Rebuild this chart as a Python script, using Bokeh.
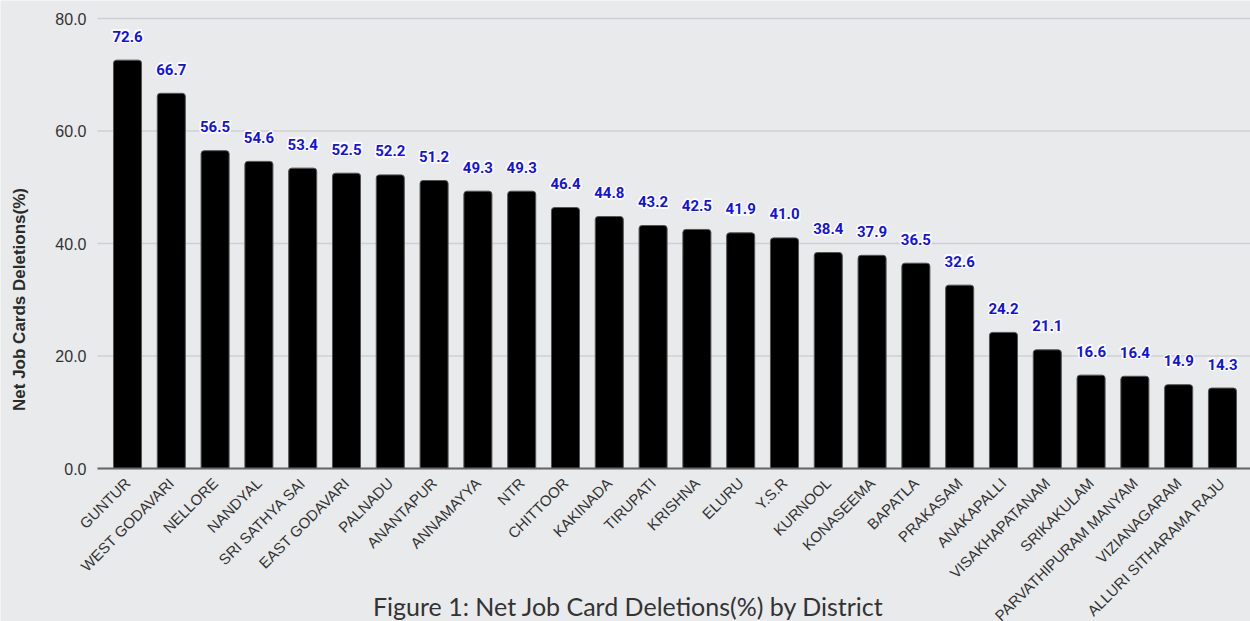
from math import pi

from bokeh.plotting import figure
from bokeh.models import (ColumnDataSource, Range1d, FixedTicker,
                          PrintfTickFormatter)
from bokeh.core.properties import value
from bokeh.embed import file_html
from bokeh.resources import INLINE

districts = [
    "GUNTUR", "WEST GODAVARI", "NELLORE", "NANDYAL", "SRI SATHYA SAI",
    "EAST GODAVARI", "PALNADU", "ANANTAPUR", "ANNAMAYYA", "NTR", "CHITTOOR",
    "KAKINADA", "TIRUPATI", "KRISHNA", "ELURU", "Y.S.R", "KURNOOL",
    "KONASEEMA", "BAPATLA", "PRAKASAM", "ANAKAPALLI", "VISAKHAPATANAM",
    "SRIKAKULAM", "PARVATHIPURAM MANYAM", "VIZIANAGARAM",
    "ALLURI SITHARAMA RAJU",
]
deletions_pct = [
    72.6, 66.7, 56.5, 54.6, 53.4, 52.5, 52.2, 51.2, 49.3, 49.3, 46.4,
    44.8, 43.2, 42.5, 41.9, 41.0, 38.4, 37.9, 36.5, 32.6, 24.2, 21.1,
    16.6, 16.4, 14.9, 14.3,
]
y_ticks = [0, 20, 40, 60, 80]
y_title = "Net Job Cards Deletions(%)"
caption_text = "Figure 1: Net Job Card Deletions(%) by District"

BG = "#e9eaec"
W, H = 1250, 621
PLOT_LEFT, PLOT_TOP, ZERO_PX = 97, 18, 468   # canvas pixels of the bar area

xs = list(range(len(districts)))
src = ColumnDataSource(dict(
    x=xs,
    y=deletions_pct,
    label=[f"{v:.1f}" for v in deletions_pct],
))

# The frame fills the whole canvas; both axes are pinned inside it so the
# rotated district names, the axis title and the caption all have room.
y_top = 80
px_per_y = (ZERO_PX - PLOT_TOP) / y_top
x_lo, x_hi = -0.685, 25.64
px_per_x = (W - PLOT_LEFT) / (x_hi - x_lo)


def data_x(px):
    return x_lo + (px - PLOT_LEFT) / px_per_x


def data_y(py):
    return (ZERO_PX - py) / px_per_y


p = figure(
    width=W, height=H,
    output_backend="svg", toolbar_location=None,
    x_range=Range1d(data_x(0), x_hi), y_range=Range1d(data_y(H), data_y(0)),
    min_border=0,
    background_fill_color=BG, border_fill_color=BG,
)
p.outline_line_color = None
p.xgrid.visible = False
p.ygrid.visible = False

# horizontal grid lines across the bar area only
p.segment(x0=[x_lo] * len(y_ticks), x1=[x_hi] * len(y_ticks),
          y0=y_ticks, y1=y_ticks, line_color="#cfd0d3", line_width=1.5)

p.vbar(x="x", top="y", width=0.64, bottom=0, source=src,
       fill_color="black", line_color="#555555", line_width=1,
       border_radius=dict(top_left=3, top_right=3,
                          bottom_right=0, bottom_left=0))

# value labels: white halo underneath, blue text on top
label_style = dict(text_align="center", text_baseline="middle",
                   text_font=value("Roboto"), text_font_style="bold",
                   text_font_size="15px")
halo = [(-1.5, 0), (1.5, 0), (0, -1.5), (0, 1.5),
        (-1.2, -1.2), (1.2, -1.2), (-1.2, 1.2), (1.2, 1.2)]
for dx, dy in halo:
    p.text(x="x", y="y", text="label", source=src,
           x_offset=dx, y_offset=-24 + dy, text_color="white", **label_style)
p.text(x="x", y="y", text="label", source=src,
       y_offset=-24, text_color="#1010f0", **label_style)

# y axis pinned to the left edge of the bar area
p.yaxis.fixed_location = x_lo
p.yaxis.bounds = (0, y_top)
p.yaxis.ticker = FixedTicker(ticks=y_ticks)
p.yaxis.formatter = PrintfTickFormatter(format="%.1f")
p.yaxis.axis_line_color = None
p.yaxis.major_tick_line_color = None
p.yaxis.minor_tick_line_color = None
p.yaxis.major_label_text_font = "Liberation Sans"
p.yaxis.major_label_text_font_size = "16px"
p.yaxis.major_label_text_color = "#333333"
p.yaxis.major_label_standoff = 5

# y axis title
p.text(x=[data_x(19)], y=[data_y(299)], text=[y_title], angle=pi / 2,
       text_align="center", text_baseline="middle",
       text_font=value("Liberation Sans"), text_font_style="bold",
       text_font_size="17px", text_color="#2a2a2a")

# x axis pinned to y = 0
p.xaxis.fixed_location = 0
p.xaxis.bounds = (x_lo, x_hi)
p.xaxis.ticker = FixedTicker(ticks=xs)
p.xaxis.major_label_overrides = {i: d for i, d in enumerate(districts)}
p.xaxis.major_label_orientation = pi / 4
p.xaxis.axis_line_color = "#666666"
p.xaxis.axis_line_width = 2
p.xaxis.major_tick_line_color = None
p.xaxis.minor_tick_line_color = None
p.xaxis.major_label_text_font = "Liberation Sans"
p.xaxis.major_label_text_font_size = "15px"
p.xaxis.major_label_text_color = "#333333"
p.xaxis.major_label_standoff = 6

# figure caption along the bottom edge
p.text(x=[data_x(628)], y=[data_y(H - 1)], text=[caption_text],
       text_align="center", text_baseline="bottom",
       text_font=value("Lato"), text_font_size="25px", text_color="#333333")

open("out.html", "w").write(file_html(p, INLINE))
